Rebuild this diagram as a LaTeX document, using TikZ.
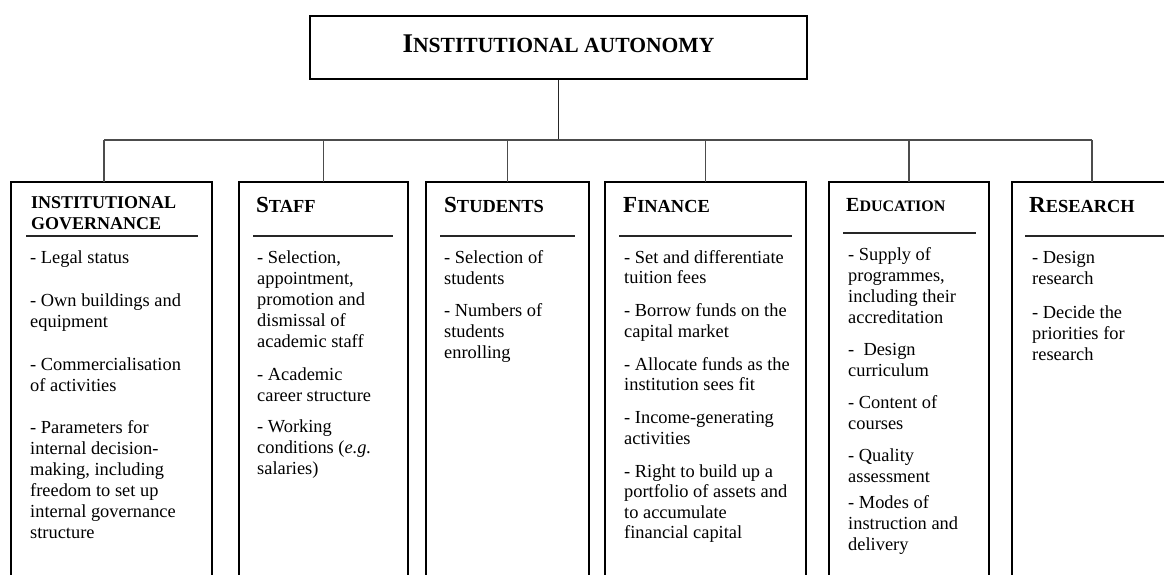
\documentclass[tikz,border=0pt]{standalone}
\usepackage{fontspec}
\setmainfont{Liberation Serif}
\usetikzlibrary{calc}
\newcommand\mysc[4]{{\bfseries\fontsize{#1}{#1}\selectfont #3\fontsize{#2}{#2}\selectfont #4}}
\tikzset{
  topbox/.style={draw=black, line width=2pt, minimum width=497pt, minimum height=63pt, inner sep=0pt, text depth=8pt},
  colbox/.style={draw=black, line width=2pt, anchor=north west, minimum height=430pt, inner sep=0pt, outer sep=0pt},
  trunk/.style={draw=black!85, line width=1.8pt},
  conn/.style={draw=black!70, line width=1.4pt},
  sepline/.style={draw=black!85, line width=1.3pt},
  ttl/.style={anchor=base west, inner sep=0pt, align=left},
  body/.style={anchor=base west, inner sep=0pt, align=left, font=\fontsize{18.4}{21}\selectfont},
}
\begin{document}
\begin{tikzpicture}[x=1pt, y=-1pt]
\useasboundingbox (0,0) rectangle (1164,575);
\fill[white] (0,0) rectangle (1164,575);
\clip (0,0) rectangle (1164,575);

% top box
\node[topbox] (top) at (558.5,47.5) {\mysc{27}{21.6}{I}{NSTITUTIONAL AUTONOMY}};

% column boxes
\node[colbox, minimum width=201pt] (b1) at (11,182) {};
\node[colbox, minimum width=169pt] (b2) at (239,182) {};
\node[colbox, minimum width=163pt] (b3) at (426,182) {};
\node[colbox, minimum width=201pt] (b4) at (605,182) {};
\node[colbox, minimum width=160pt] (b5) at (829,182) {};
\node[colbox, minimum width=160pt] (b6) at (1012,182) {};

% connectors
\coordinate (bus) at (0,140);
\draw[trunk] (top.south) -- (top.south |- bus);
\draw[conn] ([xshift=-7.5pt]b1.north |- bus) -- (b6.north |- bus);
\draw[conn] ([xshift=-7.5pt]b1.north |- bus) -- ([xshift=-7.5pt]b1.north);
\foreach \b in {b2,b3,b4,b5,b6} {
  \draw[conn] (\b.north |- bus) -- (\b.north);
}

% titles (base anchor = baseline of last line)
\node[ttl, font=\bfseries\fontsize{18}{21}\selectfont] (t1) at (31,229) {INSTITUTIONAL\\GOVERNANCE};
\node[ttl] (t2) at (256,212) {\mysc{23}{18.4}{S}{TAFF}};
\node[ttl] (t3) at (444,212) {\mysc{23}{18.4}{S}{TUDENTS}};
\node[ttl] (t4) at (623,212) {\mysc{23}{18.4}{F}{INANCE}};
\node[ttl] (t5) at (846,211) {\mysc{20}{16}{E}{DUCATION}};
\node[ttl] (t6) at (1029,212) {\mysc{23}{18.4}{R}{ESEARCH}};

% separator rules
\draw[sepline] ($(b1.north west)+(15,54)$) -- ($(b1.north east)+(-14,54)$);
\draw[sepline] ($(b2.north west)+(14,54)$) -- ($(b2.north east)+(-15,54)$);
\draw[sepline] ($(b3.north west)+(14,54)$) -- ($(b3.north east)+(-14,54)$);
\draw[sepline] ($(b4.north west)+(14,54)$) -- ($(b4.north east)+(-14,54)$);
\draw[sepline] ($(b5.north west)+(14,51)$) -- ($(b5.north east)+(-13,51)$);
\draw[sepline] ($(b6.north west)+(13,54)$) -- ($(b6.north east)+(0,54)$);

% body texts (placed by the baseline of their last line)
\node[body] (x1) at (30,538) {- Legal status\\[22pt]
- Own buildings and\\equipment\\[22pt]
- Commercialisation\\of activities\\[21pt]
- Parameters for\\internal decision-\\making, including\\freedom to set up\\internal governance\\structure};

\node[body] (x2) at (257,474) {- Selection,\\appointment,\\promotion and\\dismissal of\\academic staff\\[12pt]
- Academic\\career structure\\[10pt]
- Working\\conditions (\textit{e.g.}\\salaries)};

\node[body] (x3) at (444,358) {- Selection of\\students\\[11pt]
- Numbers of\\students\\enrolling};

\node[body, font=\fontsize{18.4}{20.5}\selectfont] (x4) at (624,538.5) {- Set and differentiate\\tuition fees\\[12.5pt]
- Borrow funds on the\\capital market\\[12.5pt]
- Allocate funds as the\\institution sees fit\\[12.5pt]
- Income-generating\\activities\\[12.5pt]
- Right to build up a\\portfolio of assets and\\to accumulate\\financial capital};

\node[body] (x5) at (848,550) {- Supply of\\programmes,\\including their\\accreditation\\[11pt]
-~ Design\\curriculum\\[11pt]
- Content of\\courses\\[11pt]
- Quality\\assessment\\[5pt]
- Modes of\\instruction and\\delivery};

\node[body] (x6) at (1032,360) {- Design\\research\\[13pt]
- Decide the\\priorities for\\research};
\end{tikzpicture}
\end{document}
